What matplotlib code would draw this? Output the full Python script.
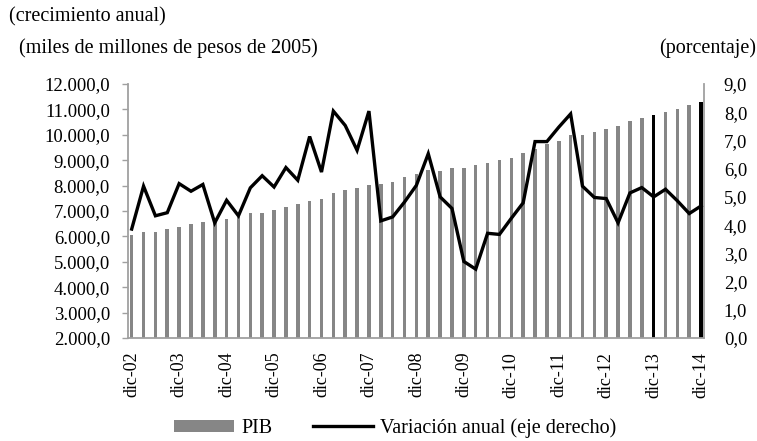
import matplotlib
matplotlib.use("Agg")
import matplotlib.pyplot as plt
from matplotlib.ticker import FuncFormatter
from matplotlib.patches import Patch
from matplotlib.lines import Line2D

plt.rcParams['font.family'] = ['Liberation Serif', 'DejaVu Serif']

# quarterly data, dic-02 .. dic-14
pib = [6052, 6170, 6170, 6301, 6379, 6484, 6562, 6614, 6680, 6771,
       6915, 6915, 7046, 7163, 7294, 7412, 7477, 7712, 7843, 7895,
       8026, 8078, 8157, 8327, 8444, 8601, 8575, 8706, 8706, 8824,
       8889, 9007, 9072, 9268, 9450, 9621, 9752, 10000, 10000, 10105,
       10235, 10366, 10549, 10667, 10797, 10915, 11033, 11163, 11307]
variacion = [3.86, 5.38, 4.33, 4.44, 5.47, 5.20, 5.44, 4.08, 4.88, 4.33,
             5.32, 5.75, 5.35, 6.04, 5.59, 7.14, 5.88, 8.04, 7.53, 6.65,
             8.04, 4.15, 4.29, 4.82, 5.41, 6.53, 5.00, 4.59, 2.71, 2.44,
             3.71, 3.67, 4.24, 4.79, 6.96, 6.96, 7.47, 7.94, 5.38, 4.98,
             4.94, 4.08, 5.14, 5.33, 5.00, 5.27, 4.86, 4.41, 4.68]
highlight = [44, 48]  # dic-13, dic-14 drawn in black
tick_labels = ['dic-02', 'dic-03', 'dic-04', 'dic-05', 'dic-06', 'dic-07',
               'dic-08', 'dic-09', 'dic-10', 'dic-11', 'dic-12', 'dic-13', 'dic-14']

n = len(pib)
x = list(range(n))
colors = ['#000000' if i in highlight else '#868686' for i in x]

fig = plt.figure(figsize=(7.57, 4.41), dpi=100)
ax = fig.add_axes([0.1691, 0.2336, 0.7613, 0.5759])
ax2 = ax.twinx()

ax.bar(x, pib, width=0.3, color=colors, zorder=2)
ax.set_xlim(-0.31, n - 1 + 0.27)
ax.set_ylim(2000, 12000)
ax.set_yticks(range(2000, 12001, 1000))

def fmt_left(v, pos):
    s = f"{v:,.1f}"
    return s.replace(',', 'X').replace('.', ',').replace('X', '.')

def fmt_right(v, pos):
    return f"{v:.1f}".replace('.', ',')

ax.yaxis.set_major_formatter(FuncFormatter(fmt_left))
ax.set_xticks(x[::4])
ax.set_xticklabels(tick_labels, rotation=90, fontsize=13)
ax.tick_params(axis='x', length=0, pad=10)
ax.tick_params(axis='y', length=4, width=1, color='#a0a0a0', pad=9, labelsize=13.5)

ax2.plot(x, variacion, color='black', lw=2.4, solid_joinstyle='miter', zorder=3)
ax2.set_ylim(0, 9)
ax2.set_yticks(range(0, 10))
ax2.yaxis.set_major_formatter(FuncFormatter(fmt_right))
ax2.tick_params(axis='y', length=0, pad=14, labelsize=13.5)

for a in (ax, ax2):
    a.spines['top'].set_visible(False)
    for s in ('left', 'right', 'bottom'):
        a.spines[s].set_color('#a0a0a0')
        a.spines[s].set_linewidth(1.3)
ax.spines['right'].set_visible(False)
ax2.spines['left'].set_visible(False)
ax2.spines['bottom'].set_visible(False)

fig.text(9 / 757, 1 - 17 / 441, '(crecimiento anual)', fontsize=14.5,
         ha='left', va='center')
fig.text(19 / 757, 1 - 48 / 441, '(miles de millones de pesos de 2005)',
         fontsize=14.5, ha='left', va='center')
fig.text(756 / 757, 1 - 48 / 441, '(porcentaje)', fontsize=14.5,
         ha='right', va='center')

handles = [Patch(facecolor='#868686', edgecolor='none'),
           Line2D([0], [0], color='black', lw=2.4)]
fig.legend(handles, ['PIB', 'Variación anual (eje derecho)'],
           loc='center', bbox_to_anchor=(395 / 757, 13 / 441), ncol=2,
           frameon=False, fontsize=14.5, handlelength=3.0, handletextpad=0.35,
           columnspacing=2.0, handleheight=0.55)

fig.savefig('out.png', dpi=100)
